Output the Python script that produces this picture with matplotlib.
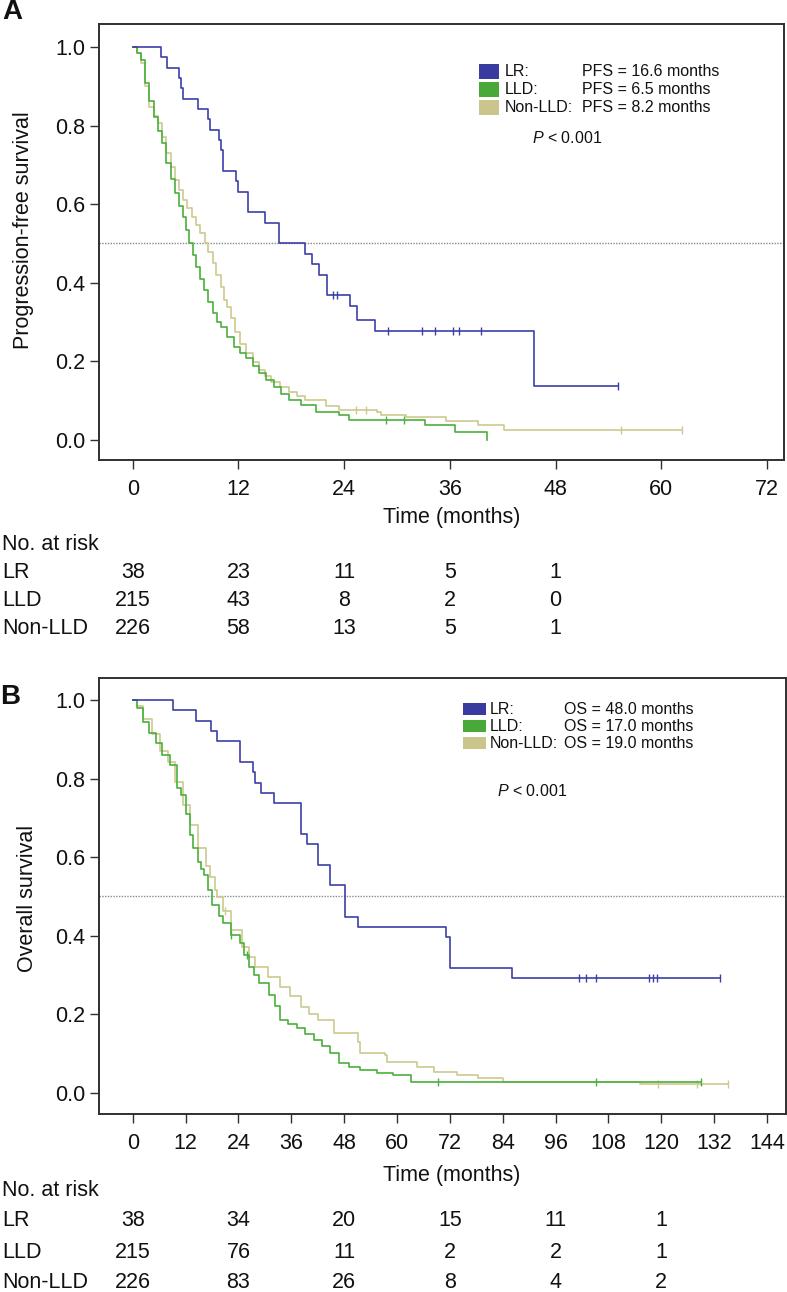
import matplotlib
matplotlib.use("Agg")
import matplotlib.pyplot as plt
import numpy as np
from matplotlib.transforms import blended_transform_factory
from matplotlib.patches import Rectangle

plt.rcParams['font.family'] = ['Liberation Sans', 'DejaVu Sans']
plt.rcParams['mathtext.fontset'] = 'custom'
plt.rcParams['mathtext.it'] = 'Liberation Sans:italic'
plt.rcParams['mathtext.rm'] = 'Liberation Sans'

# ---------------- data ----------------
groups = ["LR", "LLD", "Non-LLD"]

# Panel A: progression-free survival
pfs_lr_t = [0, 3.2, 3.9, 5.25, 5.5, 5.7, 7.4, 8.6, 8.8, 9.8, 10.0, 10.3, 11.7, 11.9, 13.1, 15.0, 16.6,
            19.6, 20.3, 21.2, 22.0, 24.7, 25.5, 27.5, 45.6, 55.1]
pfs_lr_s = [1.0, 0.974, 0.947, 0.921, 0.895, 0.868, 0.842, 0.816, 0.789, 0.763, 0.737, 0.684, 0.658, 0.632,
            0.579, 0.553, 0.500, 0.474, 0.447, 0.421, 0.369, 0.342, 0.306, 0.276, 0.137, 0.137]
pfs_lr_cens = [22.7, 23.2, 29.0, 32.8, 34.3, 36.3, 37.0, 39.5, 55.1]

pfs_lld_t = [0, 0.5, 0.95, 1.42, 1.9, 2.38, 2.9, 3.34, 3.81, 4.3, 4.77, 5.25, 5.72, 6.1, 6.44, 6.8, 7.16,
             7.6, 8.11, 8.6, 9.07, 9.6, 10.0, 10.7, 11.45, 12.2, 12.9, 13.6, 14.3, 15.1, 16.0, 16.8, 17.7,
             19.1, 20.8, 23.4, 24.6, 33.2, 36.6, 40.2]
pfs_lld_s = [1.0, 0.985, 0.967, 0.908, 0.862, 0.823, 0.786, 0.755, 0.704, 0.665, 0.628, 0.595, 0.568, 0.535,
             0.502, 0.470, 0.441, 0.410, 0.382, 0.350, 0.322, 0.300, 0.288, 0.262, 0.237, 0.222, 0.208, 0.188,
             0.170, 0.152, 0.136, 0.118, 0.102, 0.089, 0.072, 0.064, 0.051, 0.038, 0.019, 0.0]
pfs_lld_cens = [28.7, 30.8]

pfs_non_t = [0, 0.5, 0.95, 1.4, 1.9, 2.4, 2.86, 3.3, 3.81, 4.3, 4.77, 5.25, 5.72, 6.2, 6.68, 7.15, 7.64,
             8.2, 8.6, 9.07, 9.5, 10.0, 10.4, 10.74, 11.1, 11.6, 12.2, 12.9, 13.6, 14.3, 15.0, 15.75, 16.7,
             17.7, 18.6, 19.6, 21.96, 23.4, 27.7, 28.2, 31.0, 35.6, 39.2, 42.1, 62.3]
pfs_non_s = [1.0, 0.985, 0.96, 0.90, 0.848, 0.825, 0.806, 0.77, 0.729, 0.695, 0.662, 0.636, 0.611, 0.59,
             0.568, 0.547, 0.526, 0.502, 0.478, 0.450, 0.42, 0.390, 0.356, 0.339, 0.310, 0.275, 0.245, 0.221,
             0.198, 0.178, 0.162, 0.148, 0.135, 0.123, 0.112, 0.102, 0.0865, 0.076, 0.072, 0.064, 0.058,
             0.049, 0.038, 0.025, 0.025]
pfs_non_cens = [25.3, 26.5, 55.4, 62.3]

# Panel B: overall survival
os_lr_t = [0, 9.1, 14.3, 17.7, 19.1, 24.3, 27.2, 27.7, 29.1, 32.0, 38.2, 39.6, 42.0, 44.9, 48.2, 51.1,
           71.2, 72.1, 86.0, 133.3]
os_lr_s = [1.0, 0.974, 0.947, 0.921, 0.895, 0.842, 0.816, 0.789, 0.763, 0.737, 0.658, 0.632, 0.579, 0.529,
           0.448, 0.423, 0.397, 0.317, 0.291, 0.291]
os_lr_cens = [101.3, 103.0, 105.1, 117.1, 118.0, 119.0, 133.3]

os_lld_t = [0, 0.94, 2.37, 3.8, 5.24, 6.67, 8.58, 10.0, 11.0, 12.0, 12.9, 13.8, 14.8, 15.5, 16.2, 17.2,
            18.1, 19.6, 20.5, 22.4, 24.3, 25.3, 26.3, 27.5, 28.7, 31.0, 32.2, 33.4, 35.3, 37.3, 39.2, 41.1,
            43.0, 44.9, 46.8, 49.2, 51.6, 55.4, 59.2, 63.1, 129.0]
os_lld_s = [1.0, 0.979, 0.945, 0.915, 0.890, 0.861, 0.834, 0.775, 0.758, 0.71, 0.656, 0.622, 0.588, 0.57,
            0.554, 0.515, 0.478, 0.450, 0.431, 0.401, 0.380, 0.35, 0.321, 0.30, 0.278, 0.249, 0.22, 0.185,
            0.175, 0.164, 0.150, 0.134, 0.118, 0.100, 0.075, 0.065, 0.058, 0.049, 0.045, 0.028, 0.028]
os_lld_cens = [22.4, 26.0, 69.3, 105.1, 129.0]

os_non_t = [0, 0.94, 2.37, 4.3, 6.2, 8.1, 9.5, 11.45, 12.9, 14.8, 16.7, 17.6, 18.6, 19.1, 20.5, 22.4, 24.8,
            26.3, 27.7, 30.6, 33.4, 35.8, 38.2, 40.1, 42.0, 45.8, 51.1, 51.6, 57.3, 57.8, 64.0, 64.5, 68.3,
            73.6, 78.3, 84.1, 115.1, 135.2]
os_non_s = [1.0, 0.985, 0.951, 0.913, 0.870, 0.843, 0.792, 0.733, 0.682, 0.622, 0.577, 0.55, 0.515, 0.498,
            0.462, 0.414, 0.372, 0.345, 0.321, 0.295, 0.270, 0.245, 0.219, 0.20, 0.185, 0.151, 0.130, 0.100,
            0.096, 0.079, 0.079, 0.066, 0.053, 0.045, 0.036, 0.028, 0.021, 0.021]
os_non_cens = [21.0, 119.3, 128.0, 135.2]

pfs_medians = ["16.6", "6.5", "8.2"]
os_medians = ["48.0", "17.0", "19.0"]

pfs_xticks = [0, 12, 24, 36, 48, 60, 72]
os_xticks = [0, 12, 24, 36, 48, 60, 72, 84, 96, 108, 120, 132, 144]
yticks = [0.0, 0.2, 0.4, 0.6, 0.8, 1.0]

pfs_risk_t = [0, 12, 24, 36, 48]
pfs_risk = [[38, 23, 11, 5, 1], [215, 43, 8, 2, 0], [226, 58, 13, 5, 1]]
os_risk_t = [0, 24, 48, 72, 96, 120]
os_risk = [[38, 34, 20, 15, 11, 1], [215, 76, 11, 2, 2, 1], [226, 83, 26, 8, 4, 2]]

# ---------------- style ----------------
line_cols = ["#3c3fa8", "#4caf3c", "#cdc98f"]
patch_cols = ["#3a3b9f", "#48a838", "#c9c58b"]
W, H = 787, 1292
FS = 15.5
LFS = 11.5

fig = plt.figure(figsize=(W / 100, H / 100), dpi=100)


def fx(px):
    return px / W


def fy(py):
    return 1 - py / H


def s_at(ts, ss, t):
    i = np.searchsorted(np.asarray(ts), t, side="right") - 1
    return np.asarray(ss)[i]


def panel(box, xlim, ylim, xticks, curves, ylabel, ylabel_pos, xlabel_pos, stat, medians,
          leg_patch, leg_rows, leg_txt_x, p_pos, risk_t, risk, risk_rows_y, nar_y,
          letter, letter_pos):
    l, t, r, b = box
    ax = fig.add_axes([fx(l), fy(b), fx(r - l), (b - t) / H])
    ax.set_xlim(*xlim)
    ax.set_ylim(*ylim)
    for sp in ax.spines.values():
        sp.set_linewidth(1.4)
        sp.set_color("#303030")
    ax.axhline(0.5, color="#8a8a8a", lw=1.0, ls=(0, (1, 1)), zorder=1)
    order = [2, 1, 0]
    for k in order:
        ts, ss, cs = curves[k]
        ax.step(ts, ss, where="post", color=line_cols[k], lw=1.2, zorder=2 + (2 - k))
        ax.plot(cs, [s_at(ts, ss, c) for c in cs], ls="none", marker="|", ms=6, mew=1.0,
                color=line_cols[k], zorder=2 + (2 - k))
    ax.set_xticks(xticks)
    ax.set_xticklabels([str(v) for v in xticks])
    ax.set_yticks(yticks)
    ax.set_yticklabels(["%.1f" % v for v in yticks])
    ax.tick_params(axis="both", direction="out", length=6.5, width=1.0, color="#303030",
                   labelsize=FS, labelcolor="#111111")
    ax.tick_params(axis="x", pad=7.5)
    ax.tick_params(axis="y", pad=3.5)
    ax.patch.set_alpha(0)

    fig.text(fx(ylabel_pos[0]), fy(ylabel_pos[1]), ylabel, rotation=90, ha="center", va="center",
             fontsize=FS, color="#111111")
    fig.text(fx(xlabel_pos[0]), fy(xlabel_pos[1]), "Time (months)", ha="center", va="center",
             fontsize=FS, color="#111111")

    # legend
    px0, pw, ph = leg_patch
    for k in range(3):
        yc = leg_rows[k]
        fig.add_artist(Rectangle((fx(px0), fy(yc + ph / 2)), fx(pw), ph / H, transform=fig.transFigure,
                                 facecolor=patch_cols[k], edgecolor="none"))
        fig.text(fx(leg_txt_x[0]), fy(yc), groups[k] + ":", ha="left", va="center", fontsize=LFS,
                 color="#111111")
        fig.text(fx(leg_txt_x[1]), fy(yc), "%s = %s months" % (stat, medians[k]), ha="left",
                 va="center", fontsize=LFS, color="#111111")
    fig.text(fx(p_pos[0]), fy(p_pos[1]), r"$\it{P}$ < 0.001", ha="left", va="center", fontsize=LFS,
             color="#111111")

    # risk table
    tr = blended_transform_factory(ax.transData, fig.transFigure)
    fig.text(fx(2), fy(nar_y), "No. at risk", ha="left", va="center", fontsize=FS, color="#111111")
    for k in range(3):
        fig.text(fx(2), fy(risk_rows_y[k]), groups[k], ha="left", va="center", fontsize=FS,
                 color="#111111")
        for tt, n in zip(risk_t, risk[k]):
            ax.text(tt, fy(risk_rows_y[k]), str(n), transform=tr, ha="center", va="center",
                    fontsize=FS, color="#111111", clip_on=False)

    fig.text(fx(letter_pos[0]), fy(letter_pos[1]), letter, ha="left", va="center", fontsize=20,
             fontweight="bold", color="#111111")
    return ax


panel(box=(99, 24, 784, 460), xlim=(-3.83, 73.93), ylim=(-0.051, 1.0585), xticks=pfs_xticks,
      curves=[(pfs_lr_t, pfs_lr_s, pfs_lr_cens), (pfs_lld_t, pfs_lld_s, pfs_lld_cens),
              (pfs_non_t, pfs_non_s, pfs_non_cens)],
      ylabel="Progression-free survival", ylabel_pos=(24, 230), xlabel_pos=(452, 518), stat="PFS",
      medians=pfs_medians, leg_patch=(478.6, 20, 15), leg_rows=(71.7, 89.3, 107.3),
      leg_txt_x=(505, 582), p_pos=(532, 138), risk_t=pfs_risk_t, risk=pfs_risk,
      risk_rows_y=(572, 600, 628), nar_y=545, letter="A", letter_pos=(2, 12))

panel(box=(99, 678, 786, 1114), xlim=(-7.65, 148.3), ylim=(-0.0545, 1.056), xticks=os_xticks,
      curves=[(os_lr_t, os_lr_s, os_lr_cens), (os_lld_t, os_lld_s, os_lld_cens),
              (os_non_t, os_non_s, os_non_cens)],
      ylabel="Overall survival", ylabel_pos=(28, 898), xlabel_pos=(452, 1175), stat="OS",
      medians=os_medians, leg_patch=(463, 23, 12), leg_rows=(709, 726, 743),
      leg_txt_x=(490, 564), p_pos=(497, 791), risk_t=os_risk_t, risk=os_risk,
      risk_rows_y=(1221, 1252, 1282), nar_y=1191, letter="B", letter_pos=(0, 697))

fig.savefig("out.png", dpi=100)
